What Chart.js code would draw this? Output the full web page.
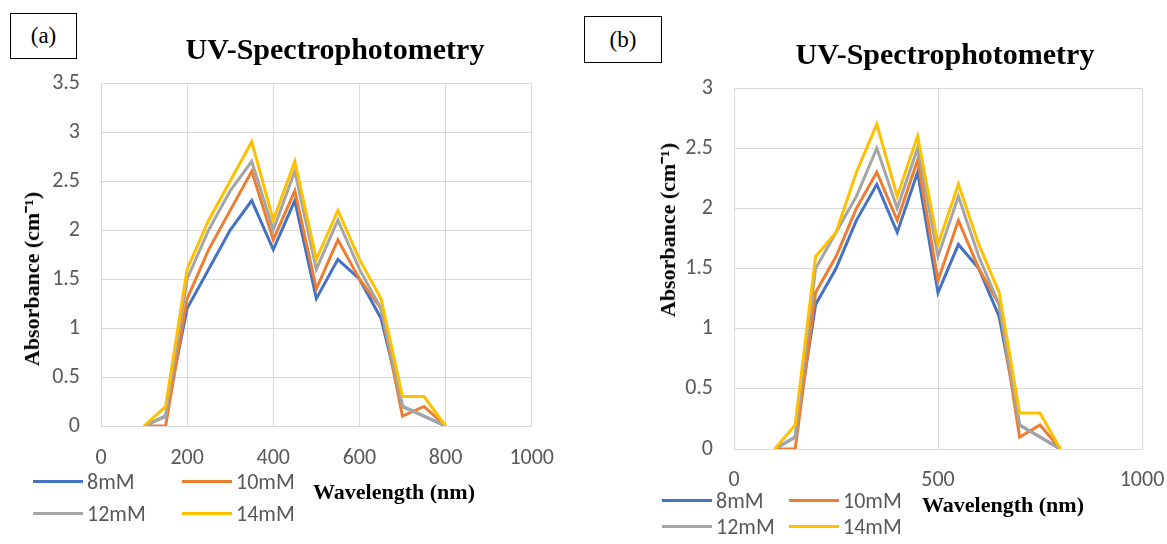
<!DOCTYPE html>
<html>
<head>
<meta charset="utf-8">
<script src="https://cdn.jsdelivr.net/npm/chart.js@4.4.1/dist/chart.umd.min.js"></script>
<style>
  html, body { margin:0; padding:0; background:#fff; width:1167px; height:544px; overflow:hidden; }
  .frame { position:absolute; border:1px solid #d9d9d9; box-sizing:border-box; }
  .cw { position:absolute; }
  .lbl { position:absolute; border:1.5px solid #000; box-sizing:border-box; background:#fff;
         font-family:"Liberation Serif","Times New Roman",serif; font-size:23px; color:#000;
         display:flex; align-items:center; justify-content:center; }
  .title { position:absolute; transform:translate(-50%,-50%); white-space:nowrap;
           font-family:"Liberation Serif","Times New Roman",serif; font-weight:bold; font-size:30px; color:#000; }
  .axt { position:absolute; transform:translate(-50%,-50%); white-space:nowrap;
         font-family:"Liberation Serif","Times New Roman",serif; font-weight:bold; font-size:22px; color:#000; }
  .axt.rot { transform:translate(-50%,-50%) rotate(-90deg); }
  .lgline { position:absolute; height:3px; }
  .lgtxt { position:absolute; transform:translateY(-50%); white-space:nowrap;
           font-family:Carlito,Calibri,"Liberation Sans",sans-serif; font-size:22px; color:#595959; }
</style>
</head>
<body>
<div class="frame" style="left:10px;top:11px;width:563px;height:560px;"></div>
<div class="frame" style="left:645px;top:12px;width:560px;height:560px;"></div>
<div class="cw" style="left:10px;top:11px;width:563px;height:533px;"><canvas id="chartA"></canvas></div>
<div class="cw" style="left:645px;top:12px;width:545px;height:532px;"><canvas id="chartB"></canvas></div>
<div id="overlay"></div>
<script>
// ---- data ----
const wavelengths = [100, 150, 200, 250, 300, 350, 400, 450, 500, 550, 600, 650, 700, 750, 800];
const seriesNames = ['8mM', '10mM', '12mM', '14mM'];
const seriesColors = ['#4472C4', '#ED7D31', '#A5A5A5', '#FFC000'];

const a8  = [0, 0.1, 1.2, 1.6, 2.0, 2.3, 1.8, 2.3, 1.3, 1.7, 1.5, 1.1, 0.2, 0.1, 0];
const a10 = [0, 0,   1.3, 1.8, 2.2, 2.6, 1.9, 2.4, 1.4, 1.9, 1.5, 1.2, 0.1, 0.2, 0];
const a12 = [0, 0.1, 1.5, 2.0, 2.4, 2.7, 2.0, 2.6, 1.6, 2.1, 1.6, 1.2, 0.2, 0.1, 0];
const a14 = [0, 0.2, 1.6, 2.1, 2.5, 2.9, 2.1, 2.7, 1.7, 2.2, 1.7, 1.3, 0.3, 0.3, 0];

const b8  = [0, 0.1, 1.2, 1.5, 1.9, 2.2, 1.8, 2.3, 1.3, 1.7, 1.5, 1.1, 0.2, 0.1, 0];
const b10 = [0, 0,   1.3, 1.6, 2.0, 2.3, 1.9, 2.4, 1.4, 1.9, 1.5, 1.2, 0.1, 0.2, 0];
const b12 = [0, 0.1, 1.5, 1.8, 2.1, 2.5, 2.0, 2.5, 1.6, 2.1, 1.6, 1.2, 0.2, 0.1, 0];
const b14 = [0, 0.2, 1.6, 1.8, 2.3, 2.7, 2.1, 2.6, 1.7, 2.2, 1.7, 1.3, 0.3, 0.3, 0];

const xTicksA = [0, 200, 400, 600, 800, 1000];
const yTicksA = [0, 0.5, 1, 1.5, 2, 2.5, 3, 3.5];
const xTicksB = [0, 500, 1000];
const yTicksB = [0, 0.5, 1, 1.5, 2, 2.5, 3];

const chartTitle = 'UV-Spectrophotometry';
const xTitle = 'Wavelength (nm)';
const yTitle = 'Absorbance (cm\u207B\u00B9)';

// ---- build ----
const tickFont = { family: 'Carlito, Calibri, "Liberation Sans", sans-serif', size: 22 };
const gridColor = '#d9d9d9';

function makeChart(id, seriesList, xTicks, yTicks, L) {
  const datasets = seriesList.map((vals, i) => ({
    label: seriesNames[i],
    data: wavelengths.map((w, j) => ({ x: w, y: vals[j] })),
    borderColor: seriesColors[i],
    backgroundColor: seriesColors[i],
    borderWidth: 3,
    pointRadius: 0,
    tension: 0,
    fill: false,
    order: seriesList.length - i
  }));
  return new Chart(document.getElementById(id), {
    type: 'line',
    data: { datasets },
    options: {
      responsive: true,
      maintainAspectRatio: false,
      animation: false,
      layout: { padding: { left: 0, right: L.right, top: L.top, bottom: 0 } },
      plugins: { legend: { display: false }, title: { display: false }, tooltip: { enabled: false } },
      scales: {
        x: {
          type: 'linear',
          min: xTicks[0], max: xTicks[xTicks.length - 1],
          afterBuildTicks: s => { s.ticks = xTicks.map(v => ({ value: v })); },
          afterFit: s => { s.height = L.xh; },
          ticks: { font: tickFont, color: '#595959', padding: L.xpad, maxRotation: 0, autoSkip: false,
                   callback: v => String(v) },
          grid: { color: gridColor, lineWidth: 1, drawTicks: false },
          border: { color: gridColor, width: 1 }
        },
        y: {
          type: 'linear',
          min: yTicks[0], max: yTicks[yTicks.length - 1],
          afterBuildTicks: s => { s.ticks = yTicks.map(v => ({ value: v })); },
          afterFit: s => { s.width = L.yw; },
          ticks: { font: tickFont, color: '#595959', padding: L.ypad, autoSkip: false,
                   callback: v => String(v) },
          grid: { color: gridColor, lineWidth: 1, drawTicks: false },
          border: { display: false }
        }
      }
    },
    plugins: [{
      id: 'whitebg',
      beforeDraw: c => { const ctx = c.ctx; ctx.save(); ctx.fillStyle = '#fff'; ctx.fillRect(0, 0, c.width, c.height); ctx.restore(); }
    }]
  });
}

makeChart('chartA', [a8, a10, a12, a14], xTicksA, yTicksA,
  { right: 40, top: 72, xh: 118, xpad: 19, yw: 91, ypad: 21 });
makeChart('chartB', [b8, b10, b12, b14], xTicksB, yTicksB,
  { right: 48, top: 76, xh: 95, xpad: 18, yw: 89, ypad: 21 });

// ---- overlay text ----
const ov = document.getElementById('overlay');
function el(cls, style, text) {
  const d = document.createElement('div');
  d.className = cls; d.setAttribute('style', style);
  if (text !== undefined) d.textContent = text;
  ov.appendChild(d); return d;
}
function panel(P) {
  el('lbl', `left:${P.box[0]}px;top:${P.box[1]}px;width:${P.box[2]}px;height:${P.box[3]}px;`, P.tag);
  el('title', `left:${P.title[0]}px;top:${P.title[1]}px;`, chartTitle);
  el('axt rot', `left:${P.ytitle[0]}px;top:${P.ytitle[1]}px;`, yTitle);
  el('axt', `left:${P.xtitle[0]}px;top:${P.xtitle[1]}px;`, xTitle);
  seriesNames.forEach((n, i) => {
    const row = Math.floor(i / 2), col = i % 2;
    const y = P.rows[row], x0 = P.cols[col];
    el('lgline', `left:${x0}px;top:${y - 1.5}px;width:50px;background:${seriesColors[i]};`);
    el('lgtxt', `left:${x0 + 54}px;top:${y}px;`, n);
  });
}
panel({ tag: '(a)', box: [10, 13, 67, 46], title: [335, 49], ytitle: [30, 279], xtitle: [394, 492],
        rows: [481, 513], cols: [33, 182] });
panel({ tag: '(b)', box: [584, 16, 78, 47], title: [945, 54], ytitle: [666, 230], xtitle: [1003, 505],
        rows: [500, 526], cols: [662, 789] });
</script>
</body>
</html>
